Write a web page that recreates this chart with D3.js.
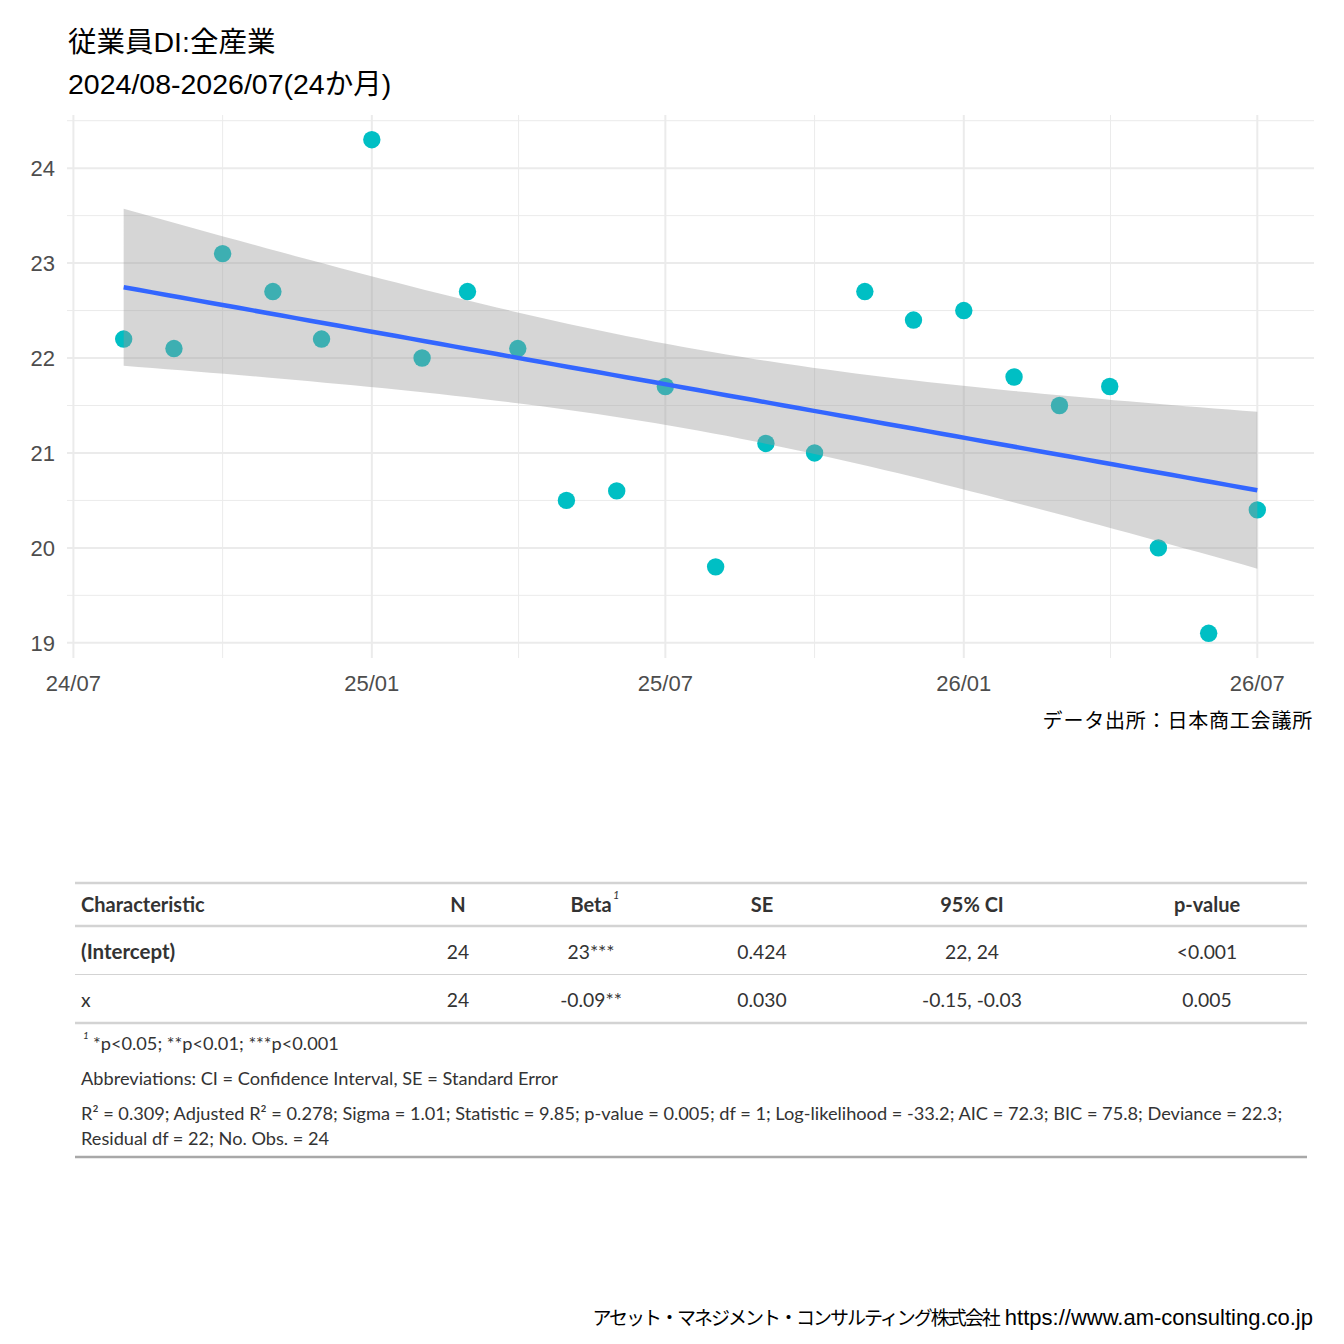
<!DOCTYPE html>
<html lang="ja">
<head>
  <meta charset="UTF-8">
  <title>従業員DI:全産業</title>
  <script src="https://d3js.org/d3.v7.min.js"></script>
  <style>
    body { margin: 0; background: #fff; }
    .jp { font-family: "Liberation Sans", Arial, "Noto Sans CJK JP", sans-serif; }
    .tbl { font-family: Lato, "Noto Sans", sans-serif; fill: #333333; }
  </style>
</head>
<body>
<div id="chart"></div>
<script>
  // monthly series
  const months = ["2024/08","2024/09","2024/10","2024/11","2024/12","2025/01",
                  "2025/02","2025/03","2025/04","2025/05","2025/06","2025/07",
                  "2025/08","2025/09","2025/10","2025/11","2025/12","2026/01",
                  "2026/02","2026/03","2026/04","2026/05","2026/06","2026/07"];
  const values = [22.2, 22.1, 23.1, 22.7, 22.2, 24.3,
                  22.0, 22.7, 22.1, 20.5, 20.6, 21.7,
                  19.8, 21.1, 21.0, 22.7, 22.4, 22.5,
                  21.8, 21.5, 21.7, 20.0, 19.1, 20.4];
  const xTicks = ["2024/07","2025/01","2025/07","2026/01","2026/07"];
  const yTicks = [19, 20, 21, 22, 23, 24];

  const titleLines = ["従業員DI:全産業", "2024/08-2026/07(24か月)"];
  const caption = "データ出所：日本商工会議所";
  const footerJp = "アセット・マネジメント・コンサルティング株式会社";
  const footerUrl = "https://www.am-consulting.co.jp";

  // regression table (as printed)
  const tblHeader = ["Characteristic", "N", "Beta", "SE", "95% CI", "p-value"];
  const tblRows = [
    ["(Intercept)", "24", "23***", "0.424", "22, 24", "<0.001"],
    ["x", "24", "-0.09**", "0.030", "-0.15, -0.03", "0.005"]
  ];
  const tblNotes = [
    "*p<0.05; **p<0.01; ***p<0.001",
    "Abbreviations: CI = Confidence Interval, SE = Standard Error",
    "R² = 0.309; Adjusted R² = 0.278; Sigma = 1.01; Statistic = 9.85; p-value = 0.005; df = 1; Log-likelihood = -33.2; AIC = 72.3; BIC = 75.8; Deviance = 22.3;",
    "Residual df = 22; No. Obs. = 24"
  ];

  const W = 1344, H = 1344;
  const parse = d3.timeParse("%Y/%m");
  const data = months.map((m, i) => ({ date: parse(m), value: values[i] }));

  const svg = d3.select("#chart").append("svg")
    .attr("width", W).attr("height", H);

  // panel
  const panel = { left: 67, right: 1314, top: 115, bottom: 658 };

  const xExt = d3.extent(data, d => d.date);
  const xPad = (xExt[1] - xExt[0]) * 0.05;
  const x = d3.scaleTime()
    .domain([new Date(+xExt[0] - xPad), new Date(+xExt[1] + xPad)])
    .range([panel.left, panel.right]);

  const yExt = d3.extent(values);
  const yPad = (yExt[1] - yExt[0]) * 0.05;
  const y = d3.scaleLinear()
    .domain([yExt[0] - yPad, yExt[1] + yPad])
    .range([panel.bottom, panel.top]);

  // grid
  const grid = svg.append("g");
  const xMajor = xTicks.map(parse);
  const xMinor = d3.pairs(xMajor).map(([a, b]) => new Date((+a + +b) / 2));
  const yMinor = d3.range(18.5, 25, 1).filter(v => v >= y.domain()[0] && v <= y.domain()[1]);

  grid.selectAll(".ymin").data(yMinor).join("line")
    .attr("x1", panel.left).attr("x2", panel.right)
    .attr("y1", d => y(d)).attr("y2", d => y(d))
    .attr("stroke", "#ebebeb").attr("stroke-width", 1);
  grid.selectAll(".xmin").data(xMinor).join("line")
    .attr("x1", d => x(d)).attr("x2", d => x(d))
    .attr("y1", panel.top).attr("y2", panel.bottom)
    .attr("stroke", "#ebebeb").attr("stroke-width", 1);
  grid.selectAll(".ymaj").data(yTicks).join("line")
    .attr("x1", panel.left).attr("x2", panel.right)
    .attr("y1", d => y(d)).attr("y2", d => y(d))
    .attr("stroke", "#ebebeb").attr("stroke-width", 2);
  grid.selectAll(".xmaj").data(xMajor).join("line")
    .attr("x1", d => x(d)).attr("x2", d => x(d))
    .attr("y1", panel.top).attr("y2", panel.bottom)
    .attr("stroke", "#ebebeb").attr("stroke-width", 2);

  // axis labels
  svg.append("g").selectAll("text").data(yTicks).join("text")
    .attr("class", "jp")
    .attr("x", 55).attr("y", d => y(d) + 8)
    .attr("text-anchor", "end")
    .attr("font-size", 22).attr("fill", "#4d4d4d")
    .text(d => d);
  const fmt = d3.timeFormat("%y/%m");
  svg.append("g").selectAll("text").data(xMajor).join("text")
    .attr("class", "jp")
    .attr("x", d => x(d)).attr("y", 691)
    .attr("text-anchor", "middle")
    .attr("font-size", 22).attr("fill", "#4d4d4d")
    .text(d => fmt(d));

  // points
  svg.append("g").selectAll("circle").data(data).join("circle")
    .attr("cx", d => x(d.date)).attr("cy", d => y(d.value))
    .attr("r", 8.7).attr("fill", "#00BFC4");

  // linear fit with 95% band
  const xs = data.map(d => +d.date / 864e5);
  const n = xs.length;
  const xbar = d3.mean(xs), ybar = d3.mean(values);
  const sxx = d3.sum(xs, v => (v - xbar) ** 2);
  const slope = d3.sum(xs, (v, i) => (v - xbar) * (values[i] - ybar)) / sxx;
  const icpt = ybar - slope * xbar;
  const rss = d3.sum(xs, (v, i) => (values[i] - icpt - slope * v) ** 2);
  const sigma = Math.sqrt(rss / (n - 2));
  const tq = 2.073873; // qt(0.975, 22)
  const grid80 = d3.range(80).map(i => xs[0] + (xs[n - 1] - xs[0]) * i / 79);
  const fit = grid80.map(v => {
    const f = icpt + slope * v;
    const se = sigma * Math.sqrt(1 / n + (v - xbar) ** 2 / sxx);
    return { date: new Date(v * 864e5), fit: f, lo: f - tq * se, hi: f + tq * se };
  });

  svg.append("path").datum(fit)
    .attr("fill", "#999999").attr("fill-opacity", 0.4)
    .attr("d", d3.area().x(d => x(d.date)).y0(d => y(d.lo)).y1(d => y(d.hi)));
  svg.append("path").datum(fit)
    .attr("fill", "none").attr("stroke", "#3366FF").attr("stroke-width", 4.5)
    .attr("d", d3.line().x(d => x(d.date)).y(d => y(d.fit)));

  // titles
  svg.append("g").selectAll("text").data(titleLines).join("text")
    .attr("class", "jp")
    .attr("x", 68).attr("y", (d, i) => 52 + i * 42)
    .attr("font-size", 28.5).attr("fill", "#000")
    .text(d => d);

  svg.append("text").attr("class", "jp")
    .attr("x", 1313).attr("y", 728).attr("text-anchor", "end")
    .attr("font-size", 20).attr("letter-spacing", 0.8).attr("fill", "#000")
    .text(caption);

  // table
  const tb = svg.append("g").attr("class", "tbl");
  const tL = 75, tR = 1307;
  const colX = [81, 458, 591, 762, 972, 1207];
  const hLine = (yy, w, c) => tb.append("line")
    .attr("x1", tL).attr("x2", tR).attr("y1", yy).attr("y2", yy)
    .attr("stroke", c).attr("stroke-width", w);

  hLine(883, 2.5, "#d3d3d3");
  hLine(926, 2.5, "#d3d3d3");
  hLine(974.5, 1, "#d3d3d3");
  hLine(1023, 2.5, "#d3d3d3");
  hLine(1157, 2.5, "#a8a8a8");

  tb.selectAll(".hd").data(tblHeader).join("text")
    .attr("x", (d, i) => colX[i]).attr("y", 912)
    .attr("text-anchor", (d, i) => i === 0 ? "start" : "middle")
    .attr("font-size", 20).attr("font-weight", "bold")
    .text(d => d);
  tb.append("text")
    .attr("x", 613).attr("y", 899)
    .attr("font-size", 11).attr("font-style", "italic")
    .text("1");

  tblRows.forEach((row, r) => {
    tb.selectAll(".r" + r).data(row).join("text")
      .attr("x", (d, i) => colX[i]).attr("y", 959 + r * 48)
      .attr("text-anchor", (d, i) => i === 0 ? "start" : "middle")
      .attr("font-size", (d, i) => r === 0 && i === 0 ? 20.5 : 19.3)
      .attr("font-weight", (d, i) => r === 0 && i === 0 ? "bold" : "normal")
      .text(d => d);
  });

  const noteY = [1050, 1085, 1120, 1145];
  tb.selectAll(".note").data(tblNotes).join("text")
    .attr("x", (d, i) => i === 0 ? 93 : 81).attr("y", (d, i) => noteY[i])
    .attr("font-size", 18.2)
    .text(d => d);
  tb.append("text")
    .attr("x", 83).attr("y", 1039)
    .attr("font-size", 10).attr("font-style", "italic")
    .text("1");

  // footer
  const ft = svg.append("text").attr("class", "jp")
    .attr("x", 1313).attr("y", 1325).attr("text-anchor", "end")
    .attr("font-size", 22).attr("fill", "#000");
  ft.append("tspan").attr("font-size", 19).attr("letter-spacing", -2).text(footerJp);
  ft.append("tspan").attr("dx", 6).text(footerUrl);
</script>
</body>
</html>
